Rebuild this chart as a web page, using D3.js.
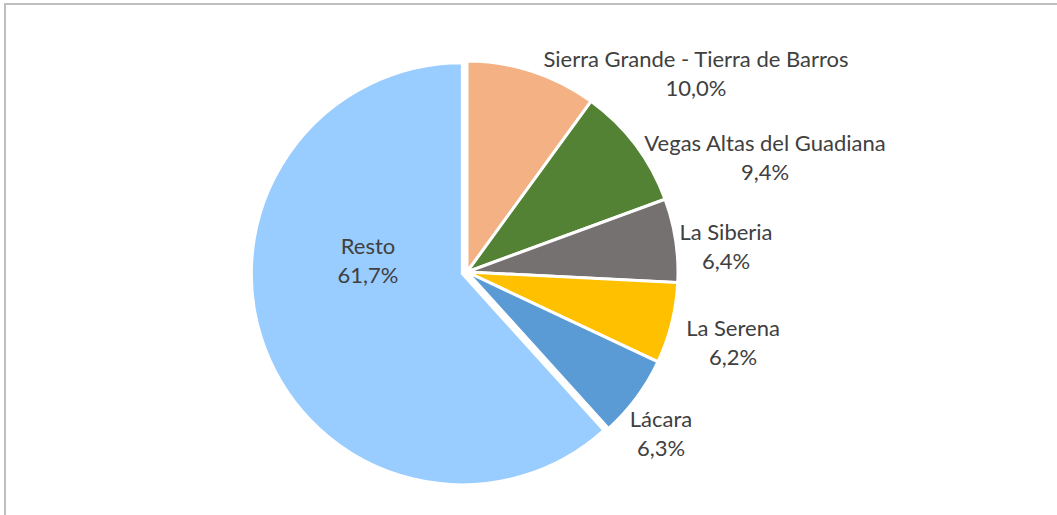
<!DOCTYPE html>
<html>
<head>
<meta charset="utf-8">
<script src="https://cdn.jsdelivr.net/npm/d3@7"></script>
<style>
  html, body { margin: 0; padding: 0; background: #fff; }
  svg { display: block; }
  text { font-family: Lato, "Open Sans", sans-serif; fill: #404040; }
</style>
</head>
<body>
<svg id="chart" width="1057" height="515"></svg>
<script>
// ---- data ----
const categories = ["Sierra Grande - Tierra de Barros", "Vegas Altas del Guadiana", "La Siberia", "La Serena", "Lácara", "Resto"];
const values = [10.0, 9.4, 6.4, 6.2, 6.3, 61.7];
const valueLabels = ["10,0%", "9,4%", "6,4%", "6,2%", "6,3%", "61,7%"];
const colors = ["#F4B183", "#548235", "#767171", "#FFC000", "#5B9BD5", "#99CCFF"];

// ---- layout ----
const W = 1057, H = 515;
const cx = 467, cy = 272, R = 211;
// label box centres (Excel "best fit" placement)
const labelCenters = [[696, 74], [765, 158], [726, 247], [733, 343], [661, 434], [368, 261]];
const lineGap = 29;
const fontSize = 22;

const svg = d3.select("#chart");

svg.append("rect")
  .attr("x", 5).attr("y", 4)
  .attr("width", W + 10).attr("height", H + 10)
  .attr("fill", "#fff")
  .attr("stroke", "#BFBFBF")
  .attr("stroke-width", 2);

const pie = d3.pie().sort(null).value(d => d.v);
const arcs = pie(values.map((v, i) => ({ v, i })));
const arc = d3.arc().innerRadius(0).outerRadius(R);

const g = svg.append("g").attr("transform", `translate(${cx},${cy})`);

g.selectAll("path.slice")
  .data(arcs)
  .enter().append("path")
  .attr("class", "slice")
  .attr("d", arc)
  .attr("fill", d => colors[d.data.i])
  .attr("stroke", "#fff")
  .attr("stroke-width", 3)
  .attr("stroke-linejoin", "miter")
  .attr("transform", d => {
    // Resto slice slightly exploded
    if (d.data.i !== categories.length - 1) return null;
    const a = (d.startAngle + d.endAngle) / 2;
    const off = 5;
    return `translate(${off * Math.sin(a)},${-off * Math.cos(a)})`;
  });

const labels = svg.append("g");
categories.forEach((c, i) => {
  const [x, y] = labelCenters[i];
  const t = labels.append("text")
    .attr("text-anchor", "middle")
    .attr("font-size", fontSize);
  t.append("tspan").attr("x", x).attr("y", y - lineGap / 2).attr("dy", "0.35em").text(c);
  t.append("tspan").attr("x", x).attr("y", y + lineGap / 2).attr("dy", "0.35em").text(valueLabels[i]);
});
</script>
</body>
</html>
